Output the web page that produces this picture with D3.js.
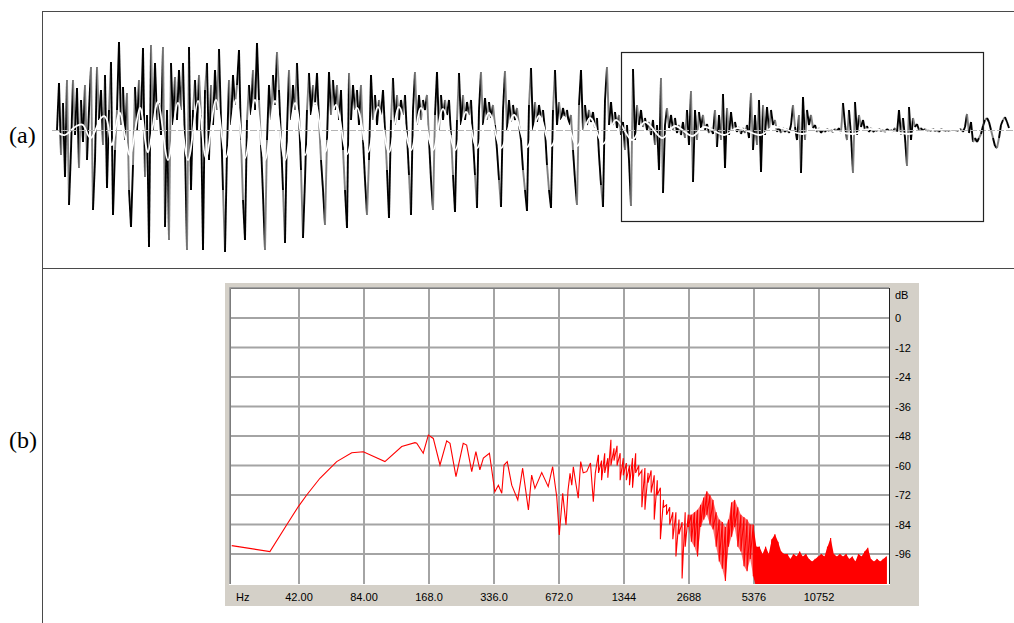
<!DOCTYPE html>
<html><head><meta charset="utf-8">
<script src="https://cdn.jsdelivr.net/npm/d3@7"></script>
<style>body{margin:0;background:#fff;}svg{display:block}</style>
</head><body>
<svg id="c" width="1014" height="623"></svg>
<script>
// ---------- panel (a): waveform samples (amplitude, arbitrary units) ----------
const waveSamples = [
0,47,-25,27,-47,50,
-75,
-20,50,-5,42,-38,30,-12,45,-30,20,63,
-80,
-30,63,10,40,-15,55,-58,20,68,
-85,
-20,20,88,5,43,-10,37,-60,
-97,
-35,43,0,50,10,82,-47,15,
-117,
85,0,67,10,27,-5,83,-97,20,-110,
67,5,53,10,60,20,67,-17,-120,83,-60,
20,50,0,55,15,-120,40,67,-30,
45,5,60,20,81,10,-60,-122,-20,50,5,55,25,45,80,-10,-70,-110,10,
45,15,60,20,87,30,-15,-65,-120,-10,45,10,55,25,78,40,-10,-60,-113,0,
60,10,45,20,67,15,-40,-108,-50,20,57,15,45,25,57,10,-30,-60,-95,-10,
58,15,50,20,45,10,40,-20,-60,-98,57,10,45,20,40,5,45,-10,-50,-85,
-30,55,10,35,5,30,15,40,0,-40,-88,10,52,5,35,10,30,15,35,-5,-45,-85,
20,58,5,35,10,30,20,35,-10,-50,-80,15,58,0,35,10,30,15,30,-5,-45,-82,
10,57,5,35,10,28,15,30,-10,-45,-78,20,58,5,32,10,28,12,25,5,-20,-50,-77,
20,59,0,30,8,25,10,22,5,-10,-40,-60,-81,25,62,0,28,8,25,12,20,0,-35,-60,-78,
20,60,5,28,10,22,12,20,5,15,-20,-50,-75,25,60,0,25,5,20,8,18,2,12,-25,-55,-77,
30,63,5,28,5,18,2,15,-5,8,-20,5,-30,-76,61,-10,25,5,20,3,12,0,8,-5,10,-15,5,-40,52,-63,
5,22,2,15,0,12,-3,5,-5,8,-8,20,-15,39,-52,20,-10,18,2,15,0,6,-3,2,-4,20,-17,15,-10,36,
-38,22,-5,18,0,8,-2,3,-4,2,-3,5,-8,37,-20,15,-15,30,-42,25,-5,
23,0,20,5,10,-2,3,-3,2,-2,1,-3,5,25,3,-10,15,-43,33,-10,20,5,15,2,5,-2,2,-3,0,-2,
1,-1,0,-2,1,-1,2,-3,27,5,-10,20,-5,-43,28,-5,
15,3,10,0,4,-2,2,-2,0,-1,1,-1,0,-2,1,-1,0,-2,2,-3,20,-5,12,-8,-36,23,-10,12,3,6,
0,2,-1,1,-1,0,-1,1,-1,0,-2,1,0,-1,0,-1,0,0,0,-1,0,1,-2,3,16,-3,8,-12,-8,-12,
-8,-4,4,10,12,8,0,-8,-16,-18,-8,5,10,13,8,2
];
// smoothed (low-pass) trace: sample index and amplitude
const smoothIdx = [0,4,9,13,17,22,25,27.5,31.5,36.5,41.5,45.5,50.5,55.5,60.5,65.5,70.5,74.5,79.5,84.5,89.5,94,99,104,109,114,119,124,129,134,139.5,145,150,155.5,160.5,166,171,177,182,188,193,199,204.5,210,216,222,228.5,235,241,247,253.5,260,266.5,273,279.5,287.5,294,302.5,309,317.5,324,333.5,340.5,351.5,359,372.5,381.5,398,406.5,425.5,436.5,451.5];
const smoothVal = [-2,-5,3,5,-8,12,10,-15,17,-25,22,-22,28,-30,27,-30,29,-28,30,-27,30,-28,30,-30,29,-30,27,-25,27,-22,25,-24,22,-22,23,-22,23,-20,22,-20,21,-20,18,-18,17,-18,15,-17,14,-16,13,-16,12,-14,10,-10,8,-8,4,-6,3,-5,2,-5,3,-4,1,-4,1,-4,0,0];
// zoom box, in sample index / amplitude
const boxIdx = [282, 463];
const boxAmp = [78, -91];

// ---------- panel (b): spectrum ----------
const specHz = [20.5,30.8,36.8,41.7,45.6,52.5,62.8,73.7,83.4,105,125.6,144.7,147.4,158,166.8,175.9,188.9,202.9,210.2,224,242,251,265,277,289,300,320,339,352,365,374,387,406,433,456,485,502,520,559,599,628,656,674,699,724,740,756,770,783,800,825,847,870,903,940,969,990,1022];
const specDb = [-92.6,-95,-84.2,-76.7,-72,-65.2,-58.4,-54.8,-54.4,-58.4,-52.3,-50.7,-50.9,-55,-47.6,-49,-59.8,-50,-51,-64.5,-51,-51.7,-62.5,-54.4,-61.8,-57,-55,-70.7,-68,-71.3,-59.8,-58.4,-68,-74,-61.1,-78.1,-63.9,-69.3,-62.9,-68.6,-60.5,-72.7,-88.3,-71.3,-84.2,-70,-63.2,-68,-60.5,-66,-73.3,-58.4,-63,-62.5,-59,-74.7,-63,-55.7];
// dense upper band: per-column max / min (dB)
const denseHz = [1024,1058,1094,1131,1169,1208,1248,1290,1334,1378,1425,1472,1522,1573,1626,1680,1737,1795,1855,1917,1981,2048,2116,2188,2262,2338,2416,2497,2581,2668,2756,2849,2944,3044,3146,3252,3360,3473,3590,3710,3834,3962,4096,4233,4376,4524,4675,4832,4994,5162,5335,5513,5698,5889,6087,6292,6503,6721,6946,7180,7420,7669,7924,8192,8467,8752,9048,9351,9664,9988,10323,10670,11027,11397,11779,12175,12583,13005,13441,13892,14360,14841,15338,15849,16384,16934,17504,18096,18701,19328,19977,20647,21340,22050];
const denseHi = [-56,-58,-55,-57,-49.5,-53,-52,-55,-57,-59,-60,-57,-55,-60,-62,-61,-63,-62,-64,-66,-69,-74,-76,-77,-79,-79,-82,-83,-79,-80,-80,-79,-78,-76,-73,-70.5,-72,-74,-79,-82,-83,-85,-82,-75,-74,-77,-80,-81,-82,-84,-84,-93,-93,-96,-93,-96,-90,-88,-91,-95,-96,-96,-98,-96,-97,-95,-97,-96,-98,-99,-98,-97,-96,-97,-93,-89.5,-96,-97,-96,-97,-96,-98,-97,-99,-96,-97,-95,-93.5,-98,-99,-98,-99,-98,-97];
const denseLo = [-63,-66,-63,-65,-60,-58,-60,-66,-64,-66,-68,-69,-63,-64,-77,-78,-67,-71,-82,-72,-90,-77,-80,-84,-90,-97,-88,-106,-93,-85,-91,-93,-97,-85,-82,-80,-84,-86,-93,-99,-102,-107,-93,-89,-85,-93,-95,-101,-103,-98,-105,-110,-110,-110,-110,-110,-110,-110,-110,-110,-110,-110,-110,-110,-110,-110,-110,-110,-110,-110,-110,-110,-110,-110,-110,-110,-110,-110,-110,-110,-110,-110,-110,-110,-110,-110,-110,-110,-110,-110,-110,-110,-110,-110];
const freqTicks = [42,84,168,336,672,1344,2688,5376,10752];
const freqTickLabels = ["42.00","84.00","168.0","336.0","672.0","1344","2688","5376","10752"];
const dbTicks = [0,-12,-24,-36,-48,-60,-72,-84,-96];
const dbTickLabels = ["0","-12","-24","-36","-48","-60","-72","-84","-96"];
const panelLabels = ["(a)","(b)"];

const svg = d3.select("#c");

// frame
svg.append("path").attr("d","M42,11.5H1014M42,268.5H1014M42.5,11V623")
  .attr("stroke","#4a4a4a").attr("fill","none").attr("stroke-width",1);

// labels
svg.selectAll("text.pl").data(panelLabels).join("text").attr("class","pl")
  .attr("x",9).attr("y",(d,i)=>i===0?143:448)
  .attr("font-family","Liberation Serif, Times New Roman, serif").attr("font-size",24)
  .text(d=>d);

// ---- waveform ----
const xw = d3.scaleLinear().domain([0, waveSamples.length-1]).range([57, 1009]);
const yw = d3.scaleLinear().domain([-120,120]).range([250,10]);
const segs = d3.range(1, waveSamples.length);
svg.append("g").selectAll("line").data(segs).join("line")
  .attr("x1",i=>xw(i-1)).attr("y1",i=>yw(waveSamples[i-1]))
  .attr("x2",i=>xw(i)).attr("y2",i=>yw(waveSamples[i]))
  .attr("stroke",i=>i%3===0? "#808080":"#000").attr("stroke-width",1.9)
  .attr("stroke-linecap","butt");
const sm = smoothIdx.map((d,i)=>[d, smoothVal[i]]);
svg.append("path").datum(sm)
  .attr("d", d3.line().x(d=>xw(d[0])).y(d=>yw(d[1])).curve(d3.curveCardinal))
  .attr("fill","none").attr("stroke","#fff").attr("stroke-width",1.8);
svg.append("line").attr("x1",52).attr("x2",1014).attr("y1",yw(0)+0.5).attr("y2",yw(0)+0.5)
  .attr("stroke","#b4b4b4").attr("stroke-width",1).attr("stroke-dasharray","7,2");
svg.append("rect")
  .attr("x",Math.round(xw(boxIdx[0]))+0.5).attr("y",Math.round(yw(boxAmp[0]))+0.5)
  .attr("width",Math.round(xw(boxIdx[1])-xw(boxIdx[0])))
  .attr("height",Math.round(yw(boxAmp[1])-yw(boxAmp[0])))
  .attr("fill","none").attr("stroke","#222").attr("stroke-width",1.2);

// ---- spectrum panel ----
svg.append("rect").attr("x",225).attr("y",283).attr("width",694).attr("height",323).attr("fill","#d4d0c8");
const P = {l:231, t:289, r:889, b:584};
svg.append("rect").attr("x",P.l).attr("y",P.t).attr("width",P.r-P.l).attr("height",P.b-P.t).attr("fill","#fff");
const xs = d3.scaleLog().base(2).domain([42,10752]).range([299,819]);
const ys = d3.scaleLinear().domain([-96,0]).range([554,318]);
const grid = svg.append("g").attr("stroke","#a4a4a4").attr("stroke-width",2);
grid.selectAll("line.v").data(freqTicks).join("line").attr("class","v")
  .attr("x1",d=>xs(d)).attr("x2",d=>xs(d)).attr("y1",P.t).attr("y2",P.b);
grid.selectAll("line.h").data(dbTicks).join("line").attr("class","h")
  .attr("y1",d=>ys(d)).attr("y2",d=>ys(d)).attr("x1",P.l).attr("x2",P.r);
svg.append("defs").append("clipPath").attr("id","pc").append("rect")
  .attr("x",P.l).attr("y",P.t).attr("width",P.r-P.l).attr("height",P.b-P.t);
const plot = svg.append("g").attr("clip-path","url(#pc)");
// band fill where the spectrum is too dense to resolve single bins
const band = denseHz.map((f,i)=>({f, hi:denseHi[i], lo:denseLo[i]}));
const area = d3.area().x(d=>xs(d.f)).y0(d=>ys(d.lo)).y1(d=>ys(d.hi));
plot.append("path").datum(band.filter(d=>d.f>=freqTicks[6]*0.97 && d.f<=freqTicks[7]*1.01))
  .attr("d",area).attr("fill","#ff0000").attr("fill-opacity",0.55);
plot.append("path").datum(band.filter(d=>d.f>=freqTicks[7]*0.99))
  .attr("d",area).attr("fill","#ff0000");
const pts = specHz.map((f,i)=>[f, specDb[i]]);
band.forEach(d=>{pts.push([d.f,d.hi]); pts.push([d.f,d.lo]);});
plot.append("path").datum(pts)
  .attr("d", d3.line().x(d=>xs(d[0])).y(d=>ys(d[1])))
  .attr("fill","none").attr("stroke","#ff0000").attr("stroke-width",1.1);
// sunken border
svg.append("path").attr("d",`M${P.l-1.5},${P.b}V${P.t-1.5}H${P.r}`).attr("fill","none").attr("stroke","#a0a0a0");
svg.append("path").attr("d",`M${P.l-0.5},${P.b}V${P.t-0.5}H${P.r}`).attr("fill","none").attr("stroke","#7c7c7c");
svg.append("path").attr("d",`M${P.r+0.5},${P.t-1}V${P.b+0.5}`).attr("fill","none").attr("stroke","#202020");
svg.append("path").attr("d",`M${P.l-2},${P.b+0.5}H${P.r+1}`).attr("fill","none").attr("stroke","#ffffff");
// tick labels
const tf = "Liberation Sans, Arial, sans-serif";
svg.selectAll("text.xt").data(freqTicks).join("text").attr("class","xt")
  .attr("x",d=>xs(d)).attr("y",601).attr("text-anchor","middle")
  .attr("font-family",tf).attr("font-size",11).text((d,i)=>freqTickLabels[i]);
svg.append("text").attr("x",236).attr("y",601).attr("font-family",tf).attr("font-size",11).text("Hz");
svg.selectAll("text.yt").data(dbTicks).join("text").attr("class","yt")
  .attr("x",895).attr("y",d=>ys(d)+4).attr("font-family",tf).attr("font-size",11)
  .text((d,i)=>dbTickLabels[i]);
svg.append("text").attr("x",895).attr("y",299).attr("font-family",tf).attr("font-size",11).text("dB");
</script>
</body></html>
